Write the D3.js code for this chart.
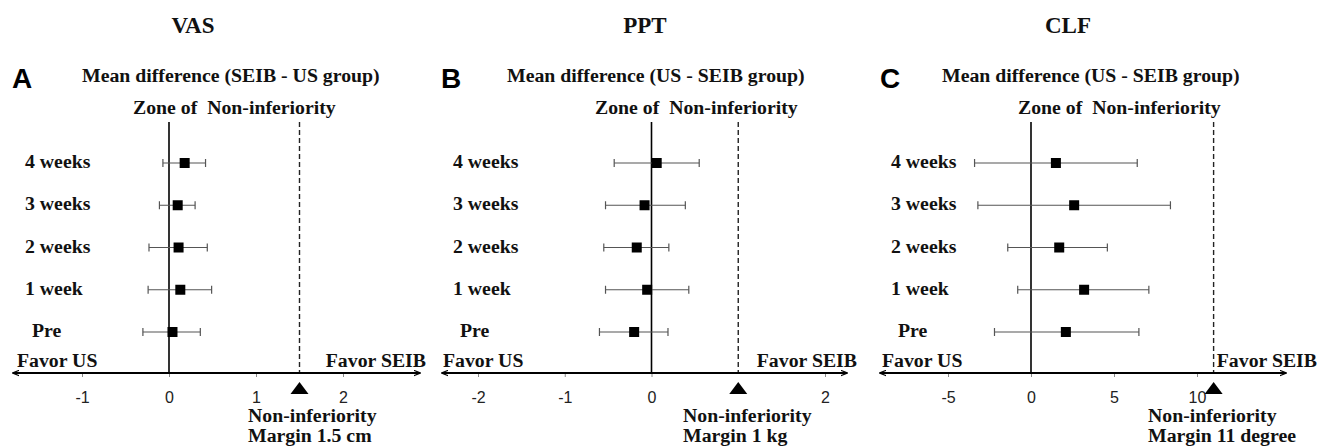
<!DOCTYPE html>
<meta charset="utf-8">
<style>
body { margin: 0; background: #fff; }
svg { display: block; }
.lbl { font-family: "Liberation Serif", "Times New Roman", serif; font-weight: bold; fill: #111; }
.letter { font-family: "Liberation Sans", Arial, sans-serif; font-weight: bold; font-size: 28px; fill: #000; }
.tick text { font-family: "Liberation Sans", Arial, sans-serif; font-size: 16px; fill: #222; }
.tick line { stroke: #888; }
</style>
<body>
<script src="https://d3js.org/d3.v7.min.js"></script>
<script>

// rows (top to bottom)
var rows = ["4 weeks", "3 weeks", "2 weeks", "1 week", "Pre"];

// VAS (SEIB - US), cm
var vasMean = [0.18, 0.10, 0.11, 0.13, 0.04];
var vasLow  = [-0.07, -0.11, -0.23, -0.24, -0.30];
var vasHigh = [0.42, 0.30, 0.44, 0.49, 0.36];
var vasTicks = [-1, 0, 1, 2];

// PPT (US - SEIB), kg
var pptMean = [0.06, -0.08, -0.17, -0.05, -0.20];
var pptLow  = [-0.43, -0.53, -0.55, -0.53, -0.60];
var pptHigh = [0.55, 0.39, 0.20, 0.43, 0.19];
var pptTicks = [-2, -1, 0, 2];

// CLF (US - SEIB), degree
var clfMean = [1.5, 2.6, 1.7, 3.2, 2.1];
var clfLow  = [-3.4, -3.2, -1.4, -0.8, -2.2];
var clfHigh = [6.4, 8.4, 4.6, 7.1, 6.5];
var clfTicks = [-5, 0, 5, 10];

var margins = [1.5, 1, 11];
var titles = ["VAS", "PPT", "CLF"];
var letters = ["A", "B", "C"];
var meanTitles = ["Mean difference (SEIB - US group)", "Mean difference (US - SEIB group)", "Mean difference (US - SEIB group)"];
var marginTexts = ["Margin 1.5 cm", "Margin 1 kg", "Margin 11 degree"];

// layout of each panel (pixels)
var layout = [
  {dom: [-1, 2], range: [82, 343], ext: [13, 420], letterX: 12, titleX: 193, meanX: 82, zoneX: 133, labelX: 25, usX: 17, seibX: 426, niX: 248},
  {dom: [-2, 2], range: [478, 825], ext: [442, 847], letterX: 441, titleX: 645, meanX: 507, zoneX: 595, labelX: 453, usX: 443, seibX: 857, niX: 683},
  {dom: [-5, 10], range: [948, 1197], ext: [880, 1286], letterX: 880, titleX: 1068, meanX: 942, zoneX: 1018, labelX: 891, usX: 882, seibX: 1317, niX: 1148}
];

var panels = [
  {mean: vasMean, low: vasLow, high: vasHigh, ticks: vasTicks},
  {mean: pptMean, low: pptLow, high: pptHigh, ticks: pptTicks},
  {mean: clfMean, low: clfLow, high: clfHigh, ticks: clfTicks}
];

var axisY = 373, topY = 122, fs = 19.8;

var svg = d3.select("body").append("svg")
    .attr("width", 1319)
    .attr("height", 448);

svg.append("defs").append("marker")
    .attr("id", "arr")
    .attr("viewBox", "0 0 10 10")
    .attr("refX", 9).attr("refY", 5)
    .attr("markerWidth", 7).attr("markerHeight", 7)
    .attr("markerUnits", "userSpaceOnUse")
    .attr("orient", "auto-start-reverse")
  .append("path")
    .attr("d", "M0,1 L10,5 L0,9")
    .attr("fill", "none")
    .attr("stroke", "#000")
    .attr("stroke-width", 1.5);

var y = d3.scalePoint().domain(rows).range([163, 332]);

function txt(x, yy, s, anchor, size) {
  return svg.append("text")
      .attr("class", "lbl")
      .attr("x", x).attr("y", yy)
      .attr("text-anchor", anchor || "start")
      .style("font-size", (size || fs) + "px")
      .text(s);
}

panels.forEach(function(p, i) {
  var L = layout[i];
  var x = d3.scaleLinear().domain(L.dom).range(L.range);

  // headings
  txt(L.titleX, 33, titles[i], "middle", 23);
  svg.append("text").attr("class", "letter").attr("x", L.letterX).attr("y", 88).text(letters[i]);
  txt(L.meanX, 82, meanTitles[i]);
  txt(L.zoneX, 114, "Zone of  Non-inferiority").style("white-space", "pre");

  // zero line and margin line
  svg.append("line")
      .attr("x1", x(0)).attr("x2", x(0))
      .attr("y1", topY).attr("y2", axisY)
      .attr("stroke", "#000").attr("stroke-width", 1.6);
  svg.append("line")
      .attr("x1", x(margins[i])).attr("x2", x(margins[i]))
      .attr("y1", topY).attr("y2", axisY)
      .attr("stroke", "#222").attr("stroke-width", 1.4)
      .attr("stroke-dasharray", "5,3");

  // axis
  svg.append("g")
      .attr("transform", "translate(0," + axisY + ")")
      .call(d3.axisBottom(x).tickValues(p.ticks).tickSize(4).tickPadding(15).tickFormat(function(d) { return String(d); }))
      .call(function(g) { g.select(".domain").remove(); });
  svg.append("line")
      .attr("x1", L.ext[0]).attr("x2", L.ext[1])
      .attr("y1", axisY).attr("y2", axisY)
      .attr("stroke", "#000").attr("stroke-width", 1.8)
      .attr("marker-start", "url(#arr)")
      .attr("marker-end", "url(#arr)");

  txt(L.usX, 367, "Favor US");
  txt(L.seibX, 367, "Favor SEIB", "end");

  // margin triangle + text
  var mx = x(margins[i]);
  svg.append("path")
      .attr("d", "M" + (mx - 9) + "," + 394 + "L" + mx + "," + 382 + "L" + (mx + 9) + "," + 394 + "Z")
      .attr("fill", "#000");
  txt(L.niX, 422, "Non-inferiority");
  txt(L.niX, 442, marginTexts[i]);

  // row labels
  rows.forEach(function(r) {
    txt(L.labelX + (r === "Pre" ? 7 : 0), y(r) + 5, r);
  });

  // error bars
  var g = svg.append("g");
  rows.forEach(function(r, j) {
    var yy = y(r);
    g.append("line")
        .attr("x1", x(p.low[j])).attr("x2", x(p.high[j]))
        .attr("y1", yy).attr("y2", yy)
        .attr("stroke", "#555").attr("stroke-width", 1.2);
    [p.low[j], p.high[j]].forEach(function(v) {
      g.append("line")
          .attr("x1", x(v)).attr("x2", x(v))
          .attr("y1", yy - 4).attr("y2", yy + 4)
          .attr("stroke", "#555").attr("stroke-width", 1.2);
    });
    g.append("rect")
        .attr("x", x(p.mean[j]) - 5).attr("y", yy - 5)
        .attr("width", 10).attr("height", 10)
        .attr("fill", "#000");
  });
});

</script>
</body>
